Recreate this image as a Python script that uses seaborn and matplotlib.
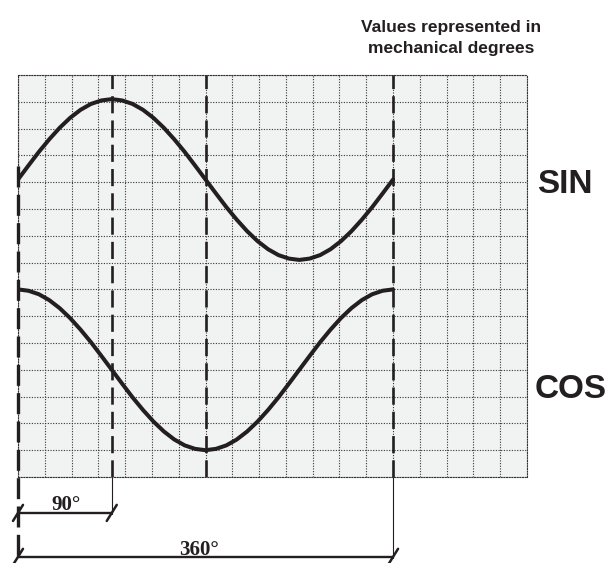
import numpy as np
import pandas as pd
import seaborn as sns
import matplotlib.pyplot as plt

# angles in mechanical degrees, curve heights in grid rows (0 = bottom row line)
angles = [0, 10, 20, 30, 40, 50, 60, 70, 80, 90, 100, 110, 120, 130, 140, 150, 160, 170, 180,
          190, 200, 210, 220, 230, 240, 250, 260, 270, 280, 290, 300, 310, 320, 330, 340, 350, 360]
sin_rows = [11.1, 11.62, 12.13, 12.6, 13.03, 13.4, 13.7, 13.92, 14.05, 14.1, 14.05, 13.92, 13.7,
            13.4, 13.03, 12.6, 12.13, 11.62, 11.1, 10.58, 10.07, 9.6, 9.17, 8.8, 8.5, 8.28, 8.15,
            8.1, 8.15, 8.28, 8.5, 8.8, 9.17, 9.6, 10.07, 10.58, 11.1]
cos_rows = [7.0, 6.95, 6.82, 6.6, 6.3, 5.93, 5.5, 5.03, 4.52, 4.0, 3.48, 2.97, 2.5, 2.07, 1.7,
            1.4, 1.18, 1.05, 1.0, 1.05, 1.18, 1.4, 1.7, 2.07, 2.5, 2.97, 3.48, 4.0, 4.52, 5.03,
            5.5, 5.93, 6.3, 6.6, 6.82, 6.95, 7.0]
marker_angles = [90, 180, 360]
dimension_angles = [90, 360]
dimension_labels = ['90°', '360°']
curve_labels = ['SIN', 'COS']

n_cols, n_rows = 19, 15
cell_deg = 360 / 14
ink = '#231f20'
grid_col = '#333333'

sns.set_style('white')
plt.rcParams['font.family'] = ['Liberation Sans', 'DejaVu Sans']

fig = plt.figure(figsize=(6.09, 5.63), dpi=100)
ax = fig.add_axes([18 / 609, 1 - 477 / 563, 509 / 609, 402 / 563])
ax.set_facecolor('#f1f2f2')

df = pd.DataFrame({'angle': angles, 'sin': sin_rows, 'cos': cos_rows})
sns.lineplot(data=df, x='angle', y='sin', ax=ax, color=ink, lw=2.9, sort=False,
             estimator=None, zorder=5)
sns.lineplot(data=df, x='angle', y='cos', ax=ax, color=ink, lw=2.9, sort=False,
             estimator=None, zorder=5)

ax.set_xlim(0, n_cols * cell_deg)
ax.set_ylim(0, n_rows)
ax.set_xticks(np.arange(n_cols + 1) * cell_deg)
ax.set_yticks(np.arange(n_rows + 1))
ax.tick_params(length=0, labelbottom=False, labelleft=False)
ax.set_xlabel('')
ax.set_ylabel('')
ax.grid(True, color=grid_col, linestyle=(0, (1, 1.4)), linewidth=0.8)
for sp in ax.spines.values():
    sp.set_linestyle((0, (1, 1.4)))
    sp.set_color(grid_col)
    sp.set_linewidth(0.8)

# dashed reference lines
for a in marker_angles:
    ax.plot([a, a], [0, n_rows], color=ink, lw=1.9, dashes=(6.5, 2.7), zorder=4)
ax.plot([0, 0], [11.6, -3.3], color=ink, lw=2.4, dashes=(6.3, 2.2), zorder=6, clip_on=False)

# dimension lines
dim_y = [-1.34, -2.98]
text_y = [-1.23, -2.91]
text_x = [46, 174]
for a, yy, lab, ty, tx in zip(dimension_angles, dim_y, dimension_labels, text_y, text_x):
    ax.plot([a, a], [0, yy - 0.05], color=ink, lw=0.8, clip_on=False)
    ax.plot([0, a], [yy, yy], color=ink, lw=1.7, clip_on=False)
    for end in [0, a]:
        ax.plot([end - 4.8, end + 4.8], [yy - 0.3, yy + 0.3], color=ink, lw=1.8,
                clip_on=False)
    ax.text(tx, ty, lab, ha='center', va='baseline', fontsize=15, fontweight='bold',
            family=['Liberation Serif', 'DejaVu Serif'], color=ink, clip_on=False)

fig.text(451 / 609, 1 - 32 / 563, 'Values represented in', ha='center', va='baseline',
         fontsize=12.5, fontweight='bold', color=ink)
fig.text(451 / 609, 1 - 53 / 563, 'mechanical degrees', ha='center', va='baseline',
         fontsize=12.5, fontweight='bold', color=ink)
fig.text(537 / 609, 1 - 193 / 563, curve_labels[0], ha='left', va='baseline',
         fontsize=24, fontweight='bold', color=ink)
fig.text(535 / 609, 1 - 398 / 563, curve_labels[1], ha='left', va='baseline',
         fontsize=24, fontweight='bold', color=ink)

fig.savefig('out.png', dpi=100, facecolor='white')
